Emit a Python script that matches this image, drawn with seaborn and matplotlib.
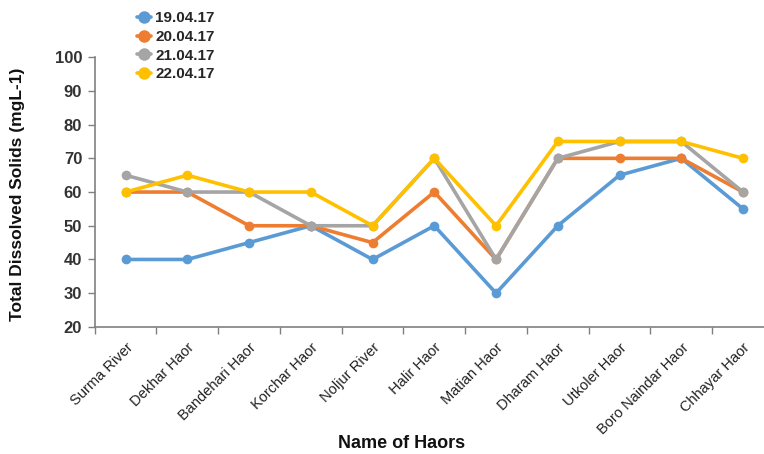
#!/usr/bin/env python3
"""Total dissolved solids across haors, four sampling dates."""

import matplotlib

matplotlib.use("Agg")
import matplotlib.pyplot as plt
import pandas as pd
import seaborn as sns
from matplotlib.ticker import FixedLocator

HAORS = [
    "Surma River", "Dekhar Haor", "Bandehari Haor", "Korchar Haor",
    "Noljur River", "Halir Haor", "Matian Haor", "Dharam Haor",
    "Utkoler Haor", "Boro Naindar Haor", "Chhayar Haor",
]
DATES = ["19.04.17", "20.04.17", "21.04.17", "22.04.17"]
TDS_19 = [40, 40, 45, 50, 40, 50, 30, 50, 65, 70, 55]
TDS_20 = [60, 60, 50, 50, 45, 60, 40, 70, 70, 70, 60]
TDS_21 = [65, 60, 60, 50, 50, 70, 40, 70, 75, 75, 60]
TDS_22 = [60, 65, 60, 60, 50, 70, 50, 75, 75, 75, 70]
COLORS = ["#5B9BD5", "#ED7D31", "#A5A5A5", "#FFC000"]


def build_frame() -> pd.DataFrame:
    frames = []
    for date, vals in zip(DATES, [TDS_19, TDS_20, TDS_21, TDS_22]):
        frames.append(pd.DataFrame({"Haor": HAORS, "TDS": vals, "Date": date}))
    df = pd.concat(frames, ignore_index=True)
    df["pos"] = df["Haor"].map({h: i for i, h in enumerate(HAORS)})
    return df


def main() -> None:
    sns.set_theme(style="white")
    plt.rcParams["font.family"] = ["Liberation Sans", "DejaVu Sans"]

    df = build_frame()
    fig = plt.figure(figsize=(7.64, 4.54), dpi=100)
    ax = fig.add_axes([0.124, 0.280, 0.876, 0.594])

    sns.lineplot(
        data=df, x="pos", y="TDS", hue="Date", hue_order=DATES,
        palette=COLORS, marker="o", markersize=7, markeredgewidth=0,
        linewidth=2.6, ax=ax, legend=True,
    )

    ax.set_xlim(-0.5, 10.34)
    ax.set_ylim(20, 100)
    ax.set_yticks(range(20, 101, 10))
    ax.set_xticks(range(len(HAORS)))
    ax.set_xticklabels(HAORS, rotation=45, ha="right", rotation_mode="anchor",
                       fontsize=10.5, color="#222222")
    ax.tick_params(axis="x", which="major", length=0, pad=10)
    ax.xaxis.set_minor_locator(FixedLocator([i + 0.5 for i in range(-1, len(HAORS))]))
    ax.tick_params(axis="x", which="minor", length=5, color="#808080", width=1,
                   direction="out", bottom=True)
    ax.tick_params(axis="y", length=5, color="#808080", width=1, direction="out",
                   left=True, labelsize=12, labelcolor="#333333", pad=4)
    for lab in ax.get_yticklabels():
        lab.set_fontweight("bold")

    for side in ["top", "right"]:
        ax.spines[side].set_visible(False)
    for side in ["left", "bottom"]:
        ax.spines[side].set_color("#808080")
        ax.spines[side].set_linewidth(1.2)

    ax.set_xlabel("Name of Haors", fontsize=13, fontweight="bold", color="#111111")
    ax.xaxis.set_label_coords(0.459, -0.40)
    ax.set_ylabel("Total Dissolved Solids (mgL-1)", fontsize=12.5, fontweight="bold",
                  color="#111111")
    ax.yaxis.set_label_coords(-0.104, 0.49)

    handles, labels = ax.get_legend_handles_labels()
    leg = ax.legend(
        handles, labels, loc="upper left", bbox_to_anchor=(0.167, 0.995),
        bbox_transform=fig.transFigure, frameon=False, handlelength=0.9,
        handletextpad=0.3, labelspacing=0.3, borderaxespad=0.2,
        prop={"weight": "bold", "size": 11},
    )
    for h in leg.legend_handles:
        h.set_markersize(9)
        h.set_linewidth(2.6)

    fig.savefig("out.png", dpi=100)
    plt.close(fig)


if __name__ == "__main__":
    main()
